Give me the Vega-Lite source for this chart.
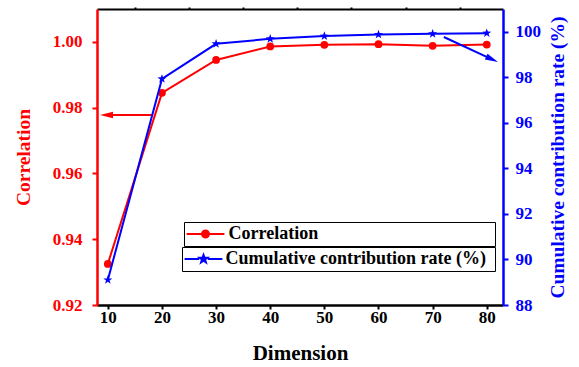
{
  "$schema": "https://vega.github.io/schema/vega-lite/v6.json",
  "width": 406,
  "height": 296,
  "padding": {"left": 13, "top": 6, "right": 5, "bottom": 5},
  "background": "white",
  "config": {
    "font": "Liberation Serif",
    "view": {"stroke": null},
    "axis": {"grid": false, "labelFont": "Liberation Serif", "titleFont": "Liberation Serif", "labelFontWeight": "bold", "titleFontWeight": "bold"}
  },
  "datasets": {
    "corr": [
      {"dim": 10, "value": 0.9325},
      {"dim": 20, "value": 0.9845},
      {"dim": 30, "value": 0.9945},
      {"dim": 40, "value": 0.9986},
      {"dim": 50, "value": 0.9991},
      {"dim": 60, "value": 0.9993},
      {"dim": 70, "value": 0.9988},
      {"dim": 80, "value": 0.9992}
    ],
    "cum": [
      {"dim": 10, "value": 89.1},
      {"dim": 20, "value": 97.93},
      {"dim": 30, "value": 99.47},
      {"dim": 40, "value": 99.69},
      {"dim": 50, "value": 99.81},
      {"dim": 60, "value": 99.88},
      {"dim": 70, "value": 99.91},
      {"dim": 80, "value": 99.94}
    ],
    "corrArrow": [{"x": 18.37, "y": 0.9778, "x2": 9.76, "y2": 0.9778}],
    "cumArrow": [{"x": 72.07, "y": 99.77, "x2": 80.98, "y2": 98.79}]
  },
  "layer": [
    {
      "layer": [
        {
          "data": {"name": "corr"},
          "mark": {"type": "line", "strokeWidth": 2},
          "encoding": {
            "x": {
              "field": "dim", "type": "quantitative",
              "scale": {"domain": [8, 83], "nice": false, "zero": false},
              "axis": {
                "orient": "bottom",
                "values": [10, 15, 20, 25, 30, 35, 40, 45, 50, 55, 60, 65, 70, 75, 80],
                "labelExpr": "datum.value % 10 == 0 ? datum.label : ''",
                "title": "Dimension",
                "titleFontSize": 21,
                "titleColor": "black",
                "titlePadding": 17,
                "labelFontSize": 17,
                "labelColor": "black",
                "labelPadding": 0,
                "domainColor": "black",
                "domainWidth": 2.5,
                "tickColor": "black",
                "tickWidth": 2,
                "tickSize": 4
              }
            },
            "y": {
              "field": "value", "type": "quantitative",
              "scale": {"domain": [0.92, 1.01], "nice": false, "zero": false},
              "axis": {
                "orient": "left",
                "values": [0.92, 0.93, 0.94, 0.95, 0.96, 0.97, 0.98, 0.99, 1.0, 1.01],
                "labelExpr": "round(datum.value*100) % 2 == 0 ? format(datum.value, '.2f') : ''",
                "title": "Correlation",
                "titleColor": "#ff0000",
                "titleFontSize": 19.5,
                "titlePadding": 19,
                "labelFontSize": 17,
                "labelColor": "#ff0000",
                "labelPadding": 10,
                "domainColor": "#ff0000",
                "domainWidth": 2.5,
                "tickColor": "#ff0000",
                "tickWidth": 2,
                "tickSize": 5
              }
            },
            "color": {
              "datum": "Correlation",
              "scale": {"range": ["#ff0000"]},
              "legend": {
                "orient": "none",
                "legendX": 87,
                "legendY": 213,
                "title": null,
                "symbolType": "M-4.2,0L4.2,0M-0.78,0a0.78,0.78 0 1,0 1.56,0a0.78,0.78 0 1,0 -1.56,0M62.7,0",
                "symbolSize": 81,
                "symbolFillColor": "#ff0000",
                "symbolStrokeColor": "#ff0000",
                "symbolStrokeWidth": 2,
                "symbolOffset": 9.5,
                "labelOffset": 14,
                "labelFont": "Liberation Serif",
                "labelFontSize": 18,
                "labelFontWeight": "bold",
                "labelColor": "black",
                "labelLimit": 400,
                "padding": 3,
                "strokeColor": "black",
                "fillColor": "white"
              }
            }
          }
        },
        {
          "data": {"name": "corr"},
          "mark": {"type": "point", "filled": true, "shape": "circle", "size": 60, "color": "#ff0000", "opacity": 1},
          "encoding": {
            "x": {"field": "dim", "type": "quantitative", "scale": {"domain": [8, 83], "nice": false, "zero": false}},
            "y": {"field": "value", "type": "quantitative", "scale": {"domain": [0.92, 1.01], "nice": false, "zero": false}}
          }
        },
        {
          "data": {"name": "corrArrow"},
          "mark": {"type": "rule", "color": "#ff0000", "strokeWidth": 2},
          "encoding": {
            "x": {"field": "x", "type": "quantitative", "scale": {"domain": [8, 83], "nice": false, "zero": false}},
            "x2": {"field": "x2"},
            "y": {"field": "y", "type": "quantitative", "scale": {"domain": [0.92, 1.01], "nice": false, "zero": false}},
            "y2": {"field": "y2"}
          }
        },
        {
          "data": {"name": "corrArrow"},
          "mark": {"type": "point", "filled": true, "shape": "M-1,0L1,-0.5L1,0.5Z", "size": 169, "color": "#ff0000", "opacity": 1},
          "encoding": {
            "x": {"field": "x2", "type": "quantitative", "scale": {"domain": [8, 83], "nice": false, "zero": false}},
            "y": {"field": "y2", "type": "quantitative", "scale": {"domain": [0.92, 1.01], "nice": false, "zero": false}}
          }
        }
      ]
    },
    {
      "layer": [
        {
          "data": {"name": "cum"},
          "mark": {"type": "line", "strokeWidth": 2},
          "encoding": {
            "x": {
              "field": "dim", "type": "quantitative",
              "scale": {"domain": [8, 83], "nice": false, "zero": false},
              "axis": {"orient": "top", "values": [15, 25, 35, 45, 55, 65, 75], "domain": true, "ticks": true, "labels": false, "title": null, "domainColor": "black", "domainWidth": 2, "tickColor": "black", "tickWidth": 2, "tickSize": 2}
            },
            "y": {
              "field": "value", "type": "quantitative",
              "scale": {"domain": [88, 101], "nice": false, "zero": false},
              "axis": {
                "orient": "right",
                "values": [88, 89, 90, 91, 92, 93, 94, 95, 96, 97, 98, 99, 100, 101],
                "labelExpr": "datum.value % 2 == 0 ? datum.label : ''",
                "title": "Cumulative contribution rate (%)",
                "titleAngle": 270,
                "titleBaseline": "top",
                "titleColor": "#0000ff",
                "titleFontSize": 19.5,
                "titlePadding": 8,
                "labelFontSize": 17,
                "labelColor": "#0000ff",
                "labelPadding": 7,
                "domainColor": "#0000ff",
                "domainWidth": 2.5,
                "tickColor": "#0000ff",
                "tickWidth": 2,
                "tickSize": 5
              }
            },
            "color": {
              "datum": "Cumulative contribution rate (%)",
              "scale": {"range": ["#0000ff"]},
              "legend": {
                "orient": "none",
                "legendX": 85,
                "legendY": 238,
                "title": null,
                "symbolType": "M-4.2,0L-0.95,0M0.95,0L4.2,0M0,-0.9L0.212,-0.292L0.856,-0.278L0.342,0.112L0.529,0.728L0,0.36L-0.529,0.728L-0.342,0.112L-0.856,-0.278L-0.212,-0.292ZM63.1,0",
                "symbolSize": 81,
                "symbolFillColor": "#0000ff",
                "symbolStrokeColor": "#0000ff",
                "symbolStrokeWidth": 2,
                "symbolOffset": 9.5,
                "labelOffset": 13,
                "labelFont": "Liberation Serif",
                "labelFontSize": 18,
                "labelFontWeight": "bold",
                "labelColor": "black",
                "labelLimit": 400,
                "padding": 3,
                "strokeColor": "black",
                "fillColor": "white"
              }
            }
          }
        },
        {
          "data": {"name": "cum"},
          "mark": {"type": "point", "filled": true, "shape": "M0,-1L0.235,-0.324L0.951,-0.309L0.38,0.124L0.588,0.809L0,0.4L-0.588,0.809L-0.38,0.124L-0.951,-0.309L-0.235,-0.324Z", "size": 90, "color": "#0000ff", "opacity": 1},
          "encoding": {
            "x": {"field": "dim", "type": "quantitative", "scale": {"domain": [8, 83], "nice": false, "zero": false},
              "axis": {"orient": "top", "values": [15, 25, 35, 45, 55, 65, 75], "domain": true, "ticks": true, "labels": false, "title": null, "domainColor": "black", "domainWidth": 2, "tickColor": "black", "tickWidth": 2, "tickSize": 2}},
            "y": {"field": "value", "type": "quantitative", "scale": {"domain": [88, 101], "nice": false, "zero": false}}
          }
        },
        {
          "data": {"name": "cumArrow"},
          "mark": {"type": "rule", "color": "#0000ff", "strokeWidth": 2},
          "encoding": {
            "x": {"field": "x", "type": "quantitative", "scale": {"domain": [8, 83], "nice": false, "zero": false},
              "axis": {"orient": "top", "values": [15, 25, 35, 45, 55, 65, 75], "domain": true, "ticks": true, "labels": false, "title": null, "domainColor": "black", "domainWidth": 2, "tickColor": "black", "tickWidth": 2, "tickSize": 2}},
            "x2": {"field": "x2"},
            "y": {"field": "y", "type": "quantitative", "scale": {"domain": [88, 101], "nice": false, "zero": false}},
            "y2": {"field": "y2"}
          }
        },
        {
          "data": {"name": "cumArrow"},
          "mark": {"type": "point", "filled": true, "shape": "M1,0L-1,-0.5L-1,0.5Z", "size": 169, "angle": 25, "color": "#0000ff", "opacity": 1},
          "encoding": {
            "x": {"field": "x2", "type": "quantitative", "scale": {"domain": [8, 83], "nice": false, "zero": false},
              "axis": {"orient": "top", "values": [15, 25, 35, 45, 55, 65, 75], "domain": true, "ticks": true, "labels": false, "title": null, "domainColor": "black", "domainWidth": 2, "tickColor": "black", "tickWidth": 2, "tickSize": 2}},
            "y": {"field": "y2", "type": "quantitative", "scale": {"domain": [88, 101], "nice": false, "zero": false}}
          }
        }
      ]
    }
  ],
  "resolve": {
    "scale": {"y": "independent", "color": "independent"},
    "axis": {"x": "independent", "y": "independent"}
  }
}
